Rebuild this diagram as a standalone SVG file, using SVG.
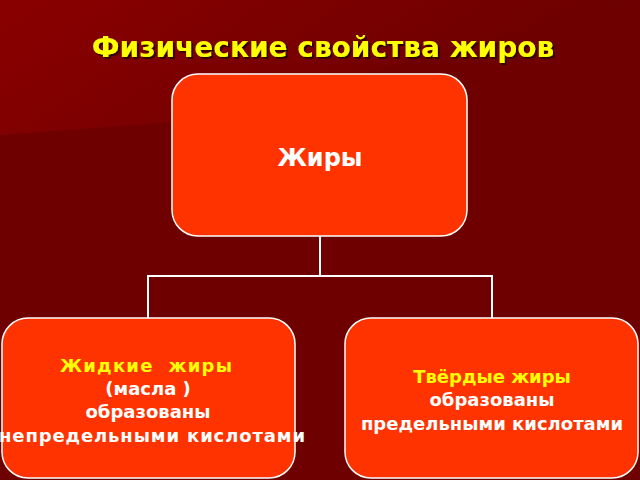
<svg xmlns="http://www.w3.org/2000/svg" width="640" height="480" viewBox="0 0 640 480">
<defs>
<linearGradient id="bg" x1="0" y1="0" x2="1" y2="0.3">
<stop offset="0" stop-color="#8a0000"/><stop offset="1" stop-color="#6a0000"/>
</linearGradient>
<filter id="sh"><feDropShadow dx="2" dy="2" stdDeviation="0.5" flood-color="#300000"/></filter>
<style>
.box{fill:#ff3300;stroke:#ffffff;stroke-width:1.5}
.t{font-family:"DejaVu Sans",sans-serif;font-weight:bold;text-anchor:middle;font-size:18px;fill:#ffffff}
.y{fill:#ffff00}
.c{stroke:#ffffff;stroke-width:2;fill:none}
</style>
</defs>
<rect width="640" height="480" fill="#6e0000"/>
<polygon points="0,0 640,0 175,122 0,135" fill="url(#bg)"/>
<text x="323" y="57" font-family="DejaVu Sans,sans-serif" font-weight="bold" font-size="28" text-anchor="middle" fill="#ffff00" filter="url(#sh)">Физические свойства жиров</text>
<g id="connectors">
<polyline class="c" points="320,236 320,276"/>
<polyline class="c" points="148,318 148,276 492,276 492,318"/>
</g>
<g id="root"><rect class="box" x="172" y="74" width="295" height="162" rx="26"/>
<text class="t" x="320" y="166" style="font-size:24px">Жиры</text></g>
<g id="liquid"><rect class="box" x="2" y="318" width="293" height="160" rx="26"/>
<text class="t y" x="146" y="372" textLength="172" xml:space="preserve">Жидкие  жиры</text>
<text class="t" x="148" y="395">(масла )</text>
<text class="t" x="148" y="418">образованы</text>
<text class="t" x="152" y="442" textLength="306">непредельными кислотами</text></g>
<g id="solid"><rect class="box" x="345" y="318" width="293" height="160" rx="26"/>
<text class="t y" x="492" y="383">Твёрдые жиры</text>
<text class="t" x="492" y="406">образованы</text>
<text class="t" x="492" y="430">предельными кислотами</text></g>
</svg>
